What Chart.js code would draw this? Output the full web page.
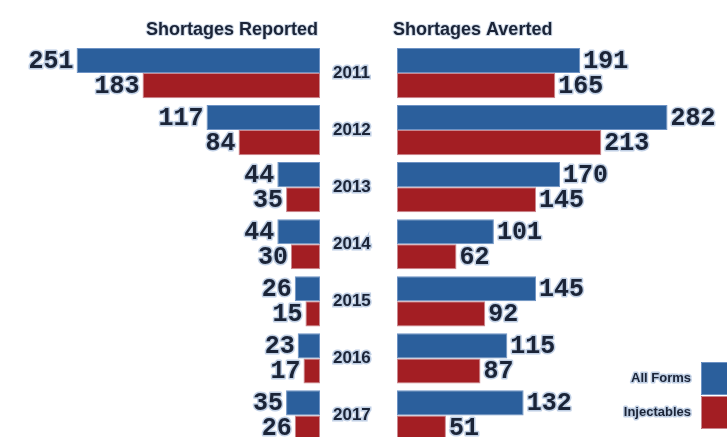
<!DOCTYPE html>
<html><head><meta charset="utf-8">
<script src="https://cdn.jsdelivr.net/npm/chart.js@4.4.1/dist/chart.umd.min.js"></script>
<style>
html,body{margin:0;padding:0;background:#fff;overflow:hidden;width:727px;height:437px;}
#l{position:absolute;left:0;top:0;}
#r{position:absolute;left:330px;top:0;}
</style></head><body>
<canvas id="l" width="390" height="444"></canvas>
<canvas id="r" width="397" height="444"></canvas>
<script>
const years = ['2011','2012','2013','2014','2015','2016','2017'];
const reportedAll = [251,117,44,44,26,23,35];
const reportedInj = [183,84,35,30,15,17,26];
const avertedAll = [191,282,170,101,145,115,132];
const avertedInj = [165,213,145,62,92,87,51];
const seriesNames = ['All Forms','Injectables'];
const titles = ['Shortages Reported','Shortages Averted'];

const BLUE='#2b5f9c', BLUE_B='#6d92c4', RED='#a31e23', RED_B='#c9878f';
const INK='#1b2437', HALO='rgba(190,205,228,0.95)';

function ds(label,data,c,b){return {label,data,backgroundColor:c,borderColor:b,borderWidth:1,borderSkipped:false,categoryPercentage:0.88,barPercentage:1};}

const labelPlugin = {
  id:'lbls',
  afterDatasetsDraw(chart){
    const ctx=chart.ctx, side=chart.options.plugins.lbls.side;
    ctx.save();
    ctx.font='bold 25px "Liberation Mono", "DejaVu Sans Mono", monospace';
    ctx.textBaseline='middle';
    ctx.lineJoin='round';
    chart.data.datasets.forEach((d,i)=>{
      chart.getDatasetMeta(i).data.forEach((el,j)=>{
        const v=String(d.data[j]);
        let x;
        if(side==='left'){ctx.textAlign='right'; x=el.x-3;}
        else {ctx.textAlign='left'; x=el.x+3;}
        const y=el.y+1;
        ctx.strokeStyle=HALO; ctx.lineWidth=3; ctx.strokeText(v,x,y);
        ctx.fillStyle=INK; ctx.fillText(v,x,y);
      });
    });
    // title
    ctx.font='bold 18px "Liberation Sans", Arial, sans-serif';
    ctx.textBaseline='alphabetic';
    ctx.strokeStyle='rgba(200,212,230,0.8)'; ctx.lineWidth=2;
    ctx.fillStyle=INK;
    const t=chart.options.plugins.lbls.title;
    if(side==='left'){ctx.textAlign='right'; ctx.strokeText(t,chart.chartArea.right-2,35); ctx.fillText(t,chart.chartArea.right-2,35);}
    else {ctx.textAlign='left'; ctx.strokeText(t,chart.chartArea.left-4,35); ctx.fillText(t,chart.chartArea.left-4,35);}
    // legend
    if(side==='right'){
      ctx.font='bold 13px "Liberation Sans", Arial, sans-serif';
      ctx.textAlign='right'; ctx.textBaseline='middle';
      const W=chart.width;
      const items=[[BLUE,BLUE_B,362],[RED,RED_B,396]];
      chart.data.datasets.forEach((d,i)=>{
        const [c,b,y0]=items[i];
        ctx.fillStyle=c; ctx.fillRect(W-26,y0,30,33);
        ctx.strokeStyle=b; ctx.lineWidth=1; ctx.strokeRect(W-25.5,y0+0.5,30,32);
        ctx.strokeStyle=HALO; ctx.lineWidth=3;
        ctx.strokeText(d.label,W-36,y0+16);
        ctx.fillStyle=INK; ctx.fillText(d.label,W-36,y0+16);
      });
    }
    ctx.restore();
  }
};

new Chart(document.getElementById('l'),{
  type:'bar',
  data:{labels:years,datasets:[ds(seriesNames[0],reportedAll,BLUE,BLUE_B),ds(seriesNames[1],reportedInj,RED,RED_B)]},
  options:{
    indexAxis:'y',responsive:false,animation:false,
    layout:{padding:{top:44.5,left:0,right:0,bottom:0}},
    plugins:{legend:{display:false},tooltip:{enabled:false},lbls:{side:'left',title:titles[0]}},
    scales:{
      x:{display:false,reverse:true,min:0,max:330},
      y:{position:'right',grid:{display:false},border:{display:false},
         afterFit(s){s.width=70; s.paddingTop=0; s.paddingBottom=0;},
         ticks:{padding:5,color:INK,font:{family:'"Liberation Sans", Arial, sans-serif',weight:'bold',size:17},
                textStrokeColor:HALO,textStrokeWidth:3}}
    }
  },
  plugins:[labelPlugin]
});

new Chart(document.getElementById('r'),{
  type:'bar',
  data:{labels:years,datasets:[ds(seriesNames[0],avertedAll,BLUE,BLUE_B),ds(seriesNames[1],avertedInj,RED,RED_B)]},
  options:{
    indexAxis:'y',responsive:false,animation:false,
    layout:{padding:{top:44.5,left:67,right:0,bottom:0}},
    plugins:{legend:{display:false},tooltip:{enabled:false},lbls:{side:'right',title:titles[1]}},
    scales:{
      x:{display:false,min:0,max:344},
      y:{display:false}
    }
  },
  plugins:[labelPlugin]
});
</script>
</body></html>
